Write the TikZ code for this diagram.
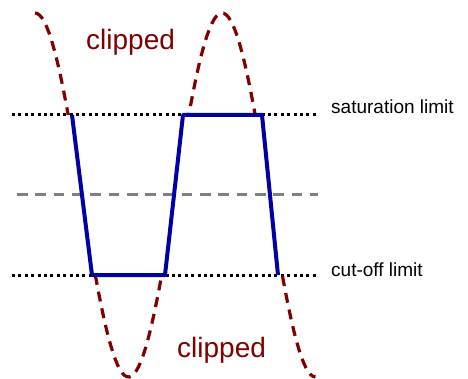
\documentclass[tikz,border=0pt]{standalone}
\usepackage{fontspec}
\setmainfont{Liberation Sans}
\definecolor{clipred}{RGB}{128,0,0}
\definecolor{outblue}{RGB}{0,0,165}
\definecolor{midgray}{RGB}{128,128,128}
\begin{document}
\begin{tikzpicture}[x=1pt,y=-1pt,
  limit/.style={line width=3pt,dash pattern=on 3pt off 3.4pt},
  signal/.style={clipred,line width=3.2pt,dash pattern=on 10pt off 7pt},
  output/.style={outblue,line width=4pt,line join=round},
  tag/.style={font=\fontsize{19}{21}\selectfont,anchor=base west,inner sep=0pt},
  cliptag/.style={clipred,font=\fontsize{28}{30}\selectfont,anchor=base west,inner sep=0pt}]
\useasboundingbox (0,0) rectangle (468,379);
% limits and midline
\draw[limit] (12,115) -- (316,115);
\draw[limit] (12,275) -- (318,275);
\draw[midgray,line width=3pt,dash pattern=on 10.7pt off 7.6pt] (17,195) -- (318,195);
\node[tag] (sat) at (331,114) {saturation limit};
\node[tag] (cut) at (331,276) {cut-off limit};
% input signal, only where it is clipped
\begin{scope}
\clip (0,0) rectangle (468,115) (0,275) rectangle (468,379);
\draw[signal,samples=120,domain=35:315.5] plot (\x,{195-182*cos(1.9251*(\x-35))});
\end{scope}
% clipped output
\coordinate (p1) at (72,115);
\coordinate (p2) at (92,275);
\coordinate (p3) at (165,275);
\coordinate (p4) at (183,115);
\coordinate (p5) at (262,115);
\coordinate (p6) at (278,275);
\draw[output] (p1) -- (p2) -- (p3) -- (p4) -- (p5) -- (p6);
\node[cliptag] (top) at (86,50) {clipped};
\node[cliptag] (bottom) at (177,357) {clipped};
\end{tikzpicture}
\end{document}
